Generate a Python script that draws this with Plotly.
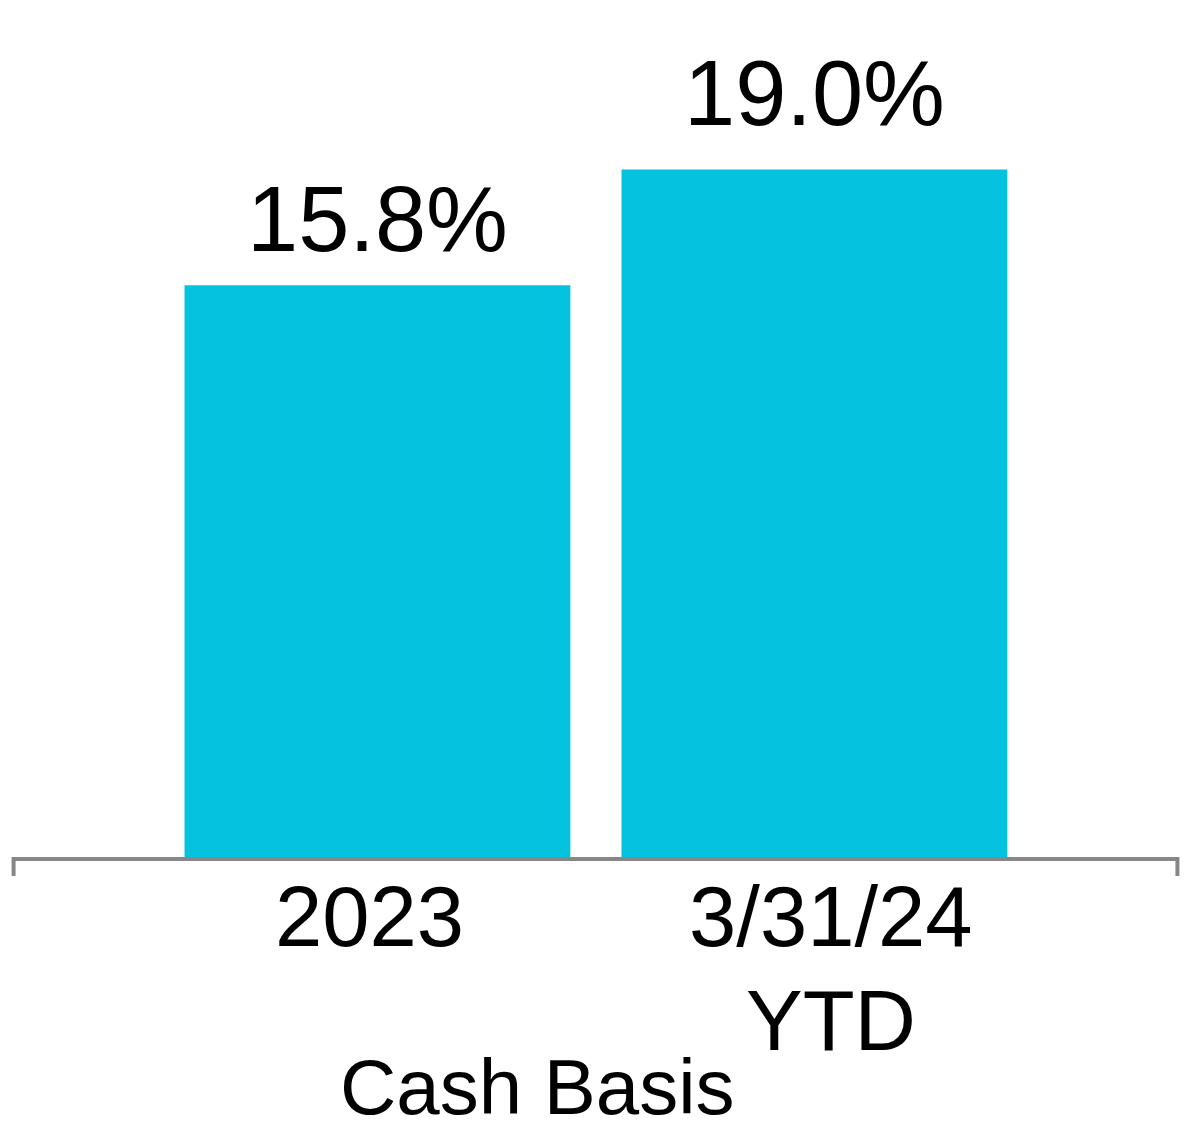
import plotly.graph_objects as go

categories = ["2023", "3/31/24<br>YTD"]
values = [15.8, 19.0]
labels = ["15.8%", "19.0%"]
axis_title = "Cash Basis"

BAR_COLOR = "#05C3DE"
AXIS_COLOR = "#878787"
FONT = "Liberation Sans, Arial, sans-serif"

# styling offsets (pixels)
LABEL_YSHIFT = [13, 24]
TICK_XSHIFT = [-8, 17]

# figure is drawn inside an 8px page margin
W, H = 1192, 1139
left, right_px, top, bottom_px = 5, 1170, 0, 849
PX_PER_UNIT = 36.18

fig = go.Figure()
fig.add_trace(go.Bar(
    x=categories, y=values,
    marker=dict(color=BAR_COLOR, line=dict(width=0)),
    width=0.883, hoverinfo="skip",
))

annotations = []
# value labels above bars
for idx, (val, lab) in enumerate(zip(values, labels)):
    annotations.append(dict(
        x=idx, y=val, xref="x", yref="y", text=lab, showarrow=False,
        xanchor="center", yanchor="bottom", yshift=LABEL_YSHIFT[idx],
        font=dict(size=92, color="black", family=FONT),
    ))
# category labels (one annotation per line for tight line spacing)
for idx, cat in enumerate(categories):
    for i, line in enumerate(cat.split("<br>")):
        annotations.append(dict(
            x=idx, y=0, xref="x", yref="paper", text=line, showarrow=False,
            xanchor="center", yanchor="bottom", yshift=-109 - 104 * i,
            xshift=TICK_XSHIFT[idx],
            font=dict(size=85, color="black", family=FONT),
        ))
annotations.append(dict(
    text=axis_title, xref="paper", yref="paper", x=(529 - left) / (right_px - left),
    y=0, yshift=-276, xanchor="center", yanchor="bottom", showarrow=False,
    font=dict(size=78, color="black", family=FONT),
))

fig.update_layout(
    width=W, height=H,
    margin=dict(l=left, r=W - right_px, t=top, b=H - bottom_px, pad=0),
    paper_bgcolor="white", plot_bgcolor="white",
    showlegend=False,
    font=dict(family=FONT, color="black"),
    xaxis=dict(
        type="category", range=[-0.834, 1.832],
        showline=True, linecolor=AXIS_COLOR, linewidth=4,
        ticks="", showticklabels=False, showgrid=False, zeroline=False,
    ),
    yaxis=dict(range=[0, (bottom_px - top) / PX_PER_UNIT], visible=False,
               showgrid=False, zeroline=False),
    shapes=[
        dict(type="line", xref="paper", yref="paper", x0=0.0005, x1=0.0005, y0=0,
             y1=-19 / (bottom_px - top), line=dict(color=AXIS_COLOR, width=4)),
        dict(type="line", xref="paper", yref="paper", x0=0.9995, x1=0.9995, y0=0,
             y1=-19 / (bottom_px - top), line=dict(color=AXIS_COLOR, width=4)),
    ],
    annotations=annotations,
)

fig.write_html("out.html")
